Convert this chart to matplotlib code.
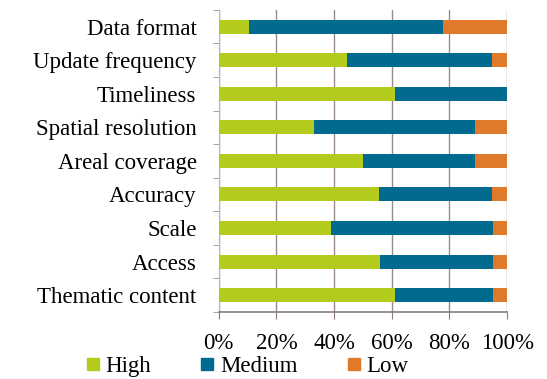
import matplotlib
matplotlib.use('Agg')
import matplotlib.pyplot as plt
import numpy as np

categories = ['Data format', 'Update frequency', 'Timeliness', 'Spatial resolution',
              'Areal coverage', 'Accuracy', 'Scale', 'Access', 'Thematic content']
high = [10.5, 44.5, 61, 33, 50, 55.7, 39, 56, 61]
medium = [67.3, 50.3, 39, 56, 39, 39.1, 56, 39, 34]
low = [22.2, 5.2, 0, 11, 11, 5.2, 5, 5, 5]
series_names = ['High', 'Medium', 'Low']
colors = ['#b4ca1c', '#006a8f', '#e07a2a']

plt.rcParams['font.family'] = ['Liberation Serif', 'DejaVu Serif']
fs = 16.5

fig = plt.figure(figsize=(5.47, 3.79), dpi=100)
ax = fig.add_axes([0.400, 0.177, 0.527, 0.797])

y = np.arange(len(categories))[::-1]
left = np.zeros(len(categories))
for vals, name, c in zip([high, medium, low], series_names, colors):
    ax.barh(y, vals, left=left, height=0.42, color=c, label=name, zorder=3)
    left += np.array(vals)

ax.set_xlim(0, 100)
ax.set_ylim(-0.5, len(categories) - 0.5)
ax.set_xticks(np.arange(0, 101, 20))
ax.set_xticklabels([f'{v}%' for v in range(0, 101, 20)], fontsize=fs)
ax.set_yticks(y)
ax.set_yticklabels(categories, fontsize=fs)
ax.set_yticks(np.arange(-0.5, len(categories), 1), minor=True)
ax.tick_params(axis='y', which='major', length=0, pad=16)
ax.tick_params(axis='y', which='minor', length=4, color='#a09090')
ax.tick_params(axis='x', length=5, color='#8a7a7a', pad=10)
ax.grid(axis='x', color='#9a8a8a', linewidth=1, zorder=0)
for s in ['top', 'right']:
    ax.spines[s].set_visible(False)
ax.spines['left'].set_color('#c0b8b8')
ax.spines['bottom'].set_color('#8a7a7a')
ax.spines['bottom'].set_linewidth(1.2)

handles = [plt.Line2D([], [], marker='s', linestyle='none', markersize=8,
                      color=c) for c in colors]
fig.legend(handles, series_names, loc='lower left', bbox_to_anchor=(0.132, -0.03),
           ncol=3, frameon=False, fontsize=fs, handlelength=0.6,
           handletextpad=0.25, columnspacing=2.15, borderaxespad=0.2)

plt.savefig('out.png', dpi=100)
plt.close()
